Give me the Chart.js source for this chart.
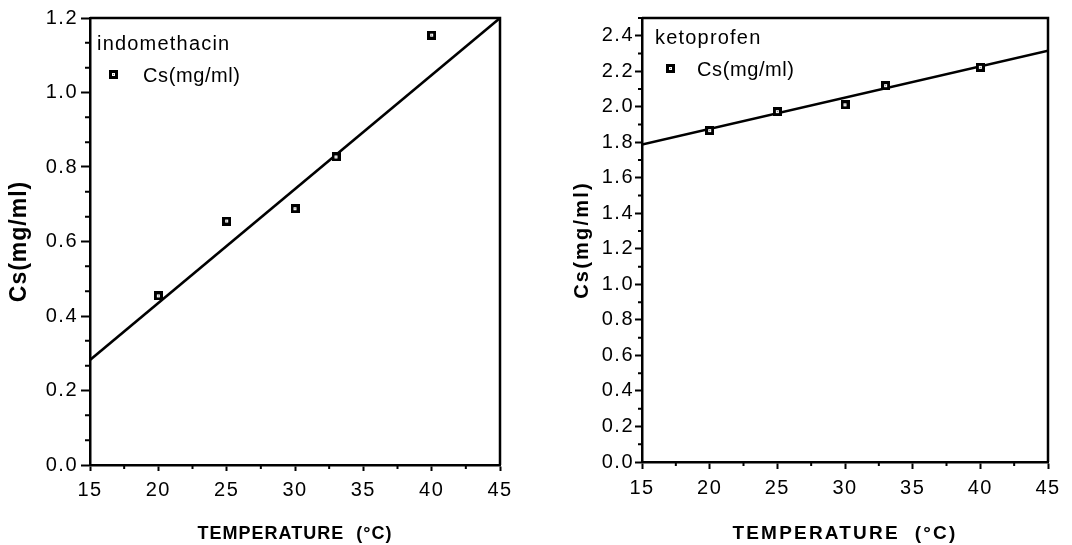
<!DOCTYPE html>
<html>
<head>
<meta charset="utf-8">
<script src="https://cdn.jsdelivr.net/npm/chart.js@4.4.1/dist/chart.umd.min.js"></script>
<style>
  html, body { margin: 0; padding: 0; background: #fff; }
  .panel { position: absolute; top: 0; width: 536px; height: 545px; }
  #left { left: 0; }
  #right { left: 536px; }
</style>
</head>
<body>
<div class="panel" id="left"><canvas id="indoChart"></canvas></div>
<div class="panel" id="right"><canvas id="ketoChart"></canvas></div>
<script>
// Data
const temps = [20, 25, 30, 33, 40];
const indoCs = [0.454, 0.655, 0.688, 0.827, 1.154];
const ketoCs = [1.866, 1.973, 2.011, 2.119, 2.222];

// regression lines (end points at the axis limits)
const fitX = [15, 45];
const indoFit = [0.282, 1.2];
const ketoFit = [1.787, 2.316];

// tick labels
const xTicks = [15, 20, 25, 30, 35, 40, 45];
const indoYTicks = [0.0, 0.2, 0.4, 0.6, 0.8, 1.0, 1.2];
const ketoYTicks = [0.0, 0.2, 0.4, 0.6, 0.8, 1.0, 1.2, 1.4, 1.6, 1.8, 2.0, 2.2, 2.4];

const SANS = '"Liberation Sans", Arial, Helvetica, sans-serif';
Chart.defaults.font.family = SANS;
Chart.defaults.color = '#000';

// little square marker: thick black frame, small light centre
function makeMarker() {
    const c = document.createElement('canvas');
    c.width = 9; c.height = 9;
    const g = c.getContext('2d');
    g.fillStyle = '#000';
    g.fillRect(0, 0, 9, 9);
    g.fillStyle = '#fff';
    g.fillRect(3, 3, 3, 3);
    g.fillStyle = '#777';
    g.fillRect(4, 4, 1, 1);
    return c;
}
const marker = makeMarker();

function steps(min, max, step) {
    const out = [];
    for (let v = min; v <= max + 1e-9; v += step) out.push(v);
    return out;
}

// frame (top + right), minor ticks, letter spacing and the in-plot legend
const decorations = {
    id: 'decorations',
    beforeDraw(chart, args, o) {
        chart.ctx.letterSpacing = o.titleSpacing;
    },
    afterDatasetsDraw(chart, args, o) {
        chart.ctx.letterSpacing = o.tickSpacing;
    },
    afterDraw(chart, args, o) {
        const ctx = chart.ctx;
        const a = chart.chartArea;
        const xs = chart.scales.x, ys = chart.scales.y;
        ctx.save();
        ctx.strokeStyle = '#000';
        ctx.lineWidth = 2.5;
        ctx.beginPath();
        ctx.moveTo(a.left, a.top);
        ctx.lineTo(a.right, a.top);
        ctx.lineTo(a.right, a.bottom);
        ctx.stroke();

        ctx.lineWidth = 2;
        ctx.beginPath();
        o.xMinor.forEach(v => {
            const px = xs.getPixelForValue(v);
            ctx.moveTo(px, a.bottom);
            ctx.lineTo(px, a.bottom + o.xMinorLen);
        });
        o.yMinor.forEach(v => {
            const py = ys.getPixelForValue(v);
            ctx.moveTo(a.left, py);
            ctx.lineTo(a.left - o.yMinorLen, py);
        });
        ctx.stroke();

        // legend
        ctx.fillStyle = '#000';
        ctx.textBaseline = 'middle';
        ctx.textAlign = 'left';
        ctx.font = '20px ' + SANS;
        ctx.letterSpacing = '1.2px';
        ctx.fillText(o.title, a.left + o.titleX, a.top + o.titleY);
        ctx.letterSpacing = '0.6px';
        ctx.drawImage(marker, Math.round(a.left + o.markX - 4.5), Math.round(a.top + o.markY - 4.5));
        ctx.fillText(chart.data.datasets[0].label, a.left + o.labelX, a.top + o.markY + 2);
        ctx.restore();
    }
};

function buildChart(id, values, fit, yTicks, yMax, s) {
    const ctx = document.getElementById(id).getContext('2d');
    return new Chart(ctx, {
        type: 'scatter',
        data: {
            datasets: [{
                label: 'Cs(mg/ml)',
                data: temps.map((t, i) => ({ x: t, y: values[i] })),
                pointStyle: marker,
                pointRadius: 5,
                showLine: false
            }, {
                label: 'fit',
                data: fitX.map((t, i) => ({ x: t, y: fit[i] })),
                showLine: true,
                borderColor: '#000',
                borderWidth: 2.5,
                pointRadius: 0,
                fill: false
            }]
        },
        options: {
            responsive: true,
            maintainAspectRatio: false,
            animation: false,
            layout: { padding: { top: 18, right: s.padRight, left: 0, bottom: 0 } },
            plugins: {
                legend: { display: false },
                tooltip: { enabled: false },
                decorations: s.deco
            },
            scales: {
                x: {
                    type: 'linear',
                    min: 15,
                    max: 45,
                    afterBuildTicks: sc => { sc.ticks = xTicks.map(v => ({ value: v })); },
                    afterFit: sc => { sc.height = s.xHeight; },
                    ticks: { font: { size: 20 }, padding: 7, z: 1, callback: v => String(v) },
                    grid: { drawOnChartArea: false, tickLength: s.xTickLen, tickWidth: 2, tickColor: '#000', z: -1 },
                    border: { color: '#000', width: 2.5 },
                    title: {
                        display: true,
                        text: 'TEMPERATURE  (°C)',
                        font: { size: s.xTitleSize, weight: 'bold' },
                        padding: { top: 0, bottom: 0 }
                    }
                },
                y: {
                    type: 'linear',
                    min: 0,
                    max: yMax,
                    afterBuildTicks: sc => { sc.ticks = yTicks.map(v => ({ value: v })); },
                    afterFit: sc => { sc.width = s.yWidth; },
                    ticks: { font: { size: 20 }, padding: s.yPad, z: 1, callback: v => v.toFixed(1) },
                    grid: { drawOnChartArea: false, tickLength: s.yTickLen, tickWidth: 2, tickColor: '#000', z: -1 },
                    border: { color: '#000', width: 2.5 },
                    title: {
                        display: true,
                        text: 'Cs(mg/ml)',
                        font: { size: s.yTitleSize, weight: 'bold' },
                        padding: { top: s.yTitlePad, bottom: 0 }
                    }
                }
            }
        },
        plugins: [decorations]
    });
}

buildChart('indoChart', indoCs, indoFit, indoYTicks, 1.2, {
    padRight: 36, xHeight: 80, yWidth: 90, xTickLen: 6, yTickLen: 9, yPad: 3,
    xTitleSize: 18, yTitleSize: 23, yTitlePad: 6,
    deco: {
        titleSpacing: '1px', tickSpacing: '1.5px',
        xMinor: steps(17.5, 42.5, 5), xMinorLen: 4,
        yMinor: steps(0, 1.2, 0.2 / 3).filter((v, i) => i % 3 !== 0), yMinorLen: 5,
        title: 'indomethacin', titleX: 7, titleY: 26, markX: 23, markY: 56, labelX: 53
    }
});

buildChart('ketoChart', ketoCs, ketoFit, ketoYTicks, 2.5, {
    padRight: 24, xHeight: 83, yWidth: 106, xTickLen: 7, yTickLen: 7, yPad: 1,
    xTitleSize: 19, yTitleSize: 20, yTitlePad: 34,
    deco: {
        titleSpacing: '2.2px', tickSpacing: '1.5px',
        xMinor: steps(17.5, 42.5, 5), xMinorLen: 4,
        yMinor: steps(0.1, 2.5, 0.2), yMinorLen: 4,
        title: 'ketoprofen', titleX: 13, titleY: 20, markX: 28, markY: 50, labelX: 55
    }
});
</script>
</body>
</html>
